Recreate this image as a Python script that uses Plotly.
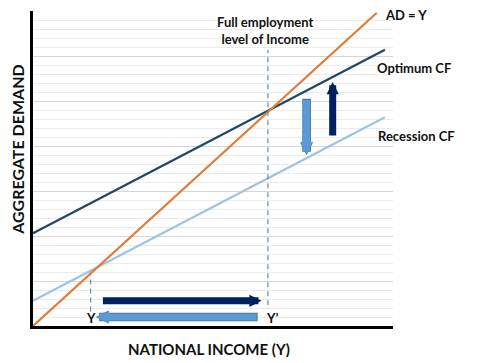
import plotly.graph_objects as go

# ---- data (chart units: x = national income, y = aggregate demand) ----
ad_x = [0, 38.2]
ad_y = [0, 34.8]
opt_x = [0, 39.1]
opt_y = [10.3, 30.7]
rec_x = [0, 39.1]
rec_y = [2.8, 23.2]
y_full = 26.1          # Y' (full employment income)
y_rec = 6.4            # Y (recession income)
fe_line_y = [2.3, 30.7]
rec_line_y = [1.6, 5.7]
line_labels = ["AD = Y", "Optimum CF", "Recession CF"]

ORANGE = "#E07B39"
NAVY = "#1F4668"
LIGHT = "#9DC3E6"
DASH = "#6A8BAE"
ARROW_DARK = "#002060"
ARROW_LIGHT = "#5B9BD5"
ARROW_EDGE = "#41719C"
FONT = "Lato"

fig = go.Figure()
fig.add_trace(go.Scatter(x=opt_x, y=opt_y, mode="lines", line=dict(color=NAVY, width=2.2), hoverinfo="skip"))
fig.add_trace(go.Scatter(x=rec_x, y=rec_y, mode="lines", line=dict(color=LIGHT, width=2.2), hoverinfo="skip"))
fig.add_trace(go.Scatter(x=ad_x, y=ad_y, mode="lines", line=dict(color=ORANGE, width=2.2), hoverinfo="skip"))
fig.add_trace(go.Scatter(x=[y_full, y_full], y=fe_line_y, mode="lines",
                         line=dict(color=DASH, width=1.2, dash="5px,4px"), hoverinfo="skip"))
fig.add_trace(go.Scatter(x=[y_rec, y_rec], y=rec_line_y, mode="lines",
                         line=dict(color=DASH, width=1.2, dash="5px,4px"), hoverinfo="skip"))

ann = []
bold = dict(family=FONT, size=13, color="#111111")
ann.append(dict(x=38.9, y=34.6, text="<b>%s</b>" % line_labels[0], xanchor="left", yanchor="middle", showarrow=False, font=bold))
ann.append(dict(x=38.0, y=28.7, text="<b>%s</b>" % line_labels[1], xanchor="left", yanchor="middle", showarrow=False, font=bold))
ann.append(dict(x=38.1, y=21.1, text="<b>%s</b>" % line_labels[2], xanchor="left", yanchor="middle", showarrow=False, font=bold))
ann.append(dict(x=25.8, y=32.8, text="<b>Full employment<br>level of Income</b>", xanchor="center", yanchor="middle",
                showarrow=False, font=bold, align="center"))
ann.append(dict(x=y_rec, y=0.9, text="<b>Y</b>", xanchor="center", yanchor="middle", showarrow=False, font=bold))
ann.append(dict(x=y_full + 0.5, y=0.9, text="<b>Y’</b>", xanchor="center", yanchor="middle", showarrow=False, font=bold))

# arrows
def arrow(x0, y0, x1, y1, color, width=7, size=0.35):
    return dict(x=x1, y=y1, ax=x0, ay=y0, xref="x", yref="y", axref="x", ayref="y",
                text="", showarrow=True, arrowhead=2, arrowsize=size, arrowwidth=width, arrowcolor=color)

def outlined_arrow(x0, y0, x1, y1, fill, edge):
    dx = 0.0 if x1 == x0 else (0.12 if x1 > x0 else -0.12)
    dy = 0.0 if y1 == y0 else (0.12 if y1 > y0 else -0.12)
    return [arrow(x0 - dx, y0 - dy, x1 + dx, y1 + dy, edge, width=8.6, size=0.3),
            arrow(x0, y0, x1, y1, fill)]

ann.append(arrow(7.6, 2.8, 25.4, 2.8, ARROW_DARK))
ann.extend(outlined_arrow(25.0, 1.0, 7.1, 1.0, ARROW_LIGHT, ARROW_EDGE))
ann.extend(outlined_arrow(30.4, 25.3, 30.4, 19.1, ARROW_LIGHT, ARROW_EDGE))
ann.append(arrow(33.3, 21.0, 33.3, 27.1, ARROW_DARK))

# axis titles
ann.append(dict(x=0.49, y=-0.073, xref="paper", yref="paper", text="<b>NATIONAL INCOME (Y)</b>",
                showarrow=False, xanchor="center", yanchor="middle", font=dict(family=FONT, size=15, color="#111111")))
ann.append(dict(x=-0.042, y=0.562, xref="paper", yref="paper", text="<b>AGGREGATE DEMAND</b>", textangle=-90,
                showarrow=False, xanchor="center", yanchor="middle", font=dict(family=FONT, size=16, color="#111111")))

# page body has an 8px default margin, so the figure is sized/placed to compensate
fig.update_layout(
    width=492, height=355,
    margin=dict(l=25, r=107, t=3, b=37, autoexpand=False),
    paper_bgcolor="white", plot_bgcolor="white",
    showlegend=False,
    annotations=ann,
    xaxis=dict(range=[0, 40], showgrid=False, zeroline=False, showticklabels=False, ticks="",
               showline=True, linecolor="black", linewidth=3, fixedrange=True),
    yaxis=dict(range=[0, 35], dtick=5, showgrid=True, gridcolor="#d6d6d6", gridwidth=1,
               minor=dict(dtick=1, showgrid=True, gridcolor="#ececec", gridwidth=1),
               zeroline=False, showticklabels=False, ticks="",
               showline=True, linecolor="black", linewidth=3, fixedrange=True),
)

fig.write_html("out.html")
